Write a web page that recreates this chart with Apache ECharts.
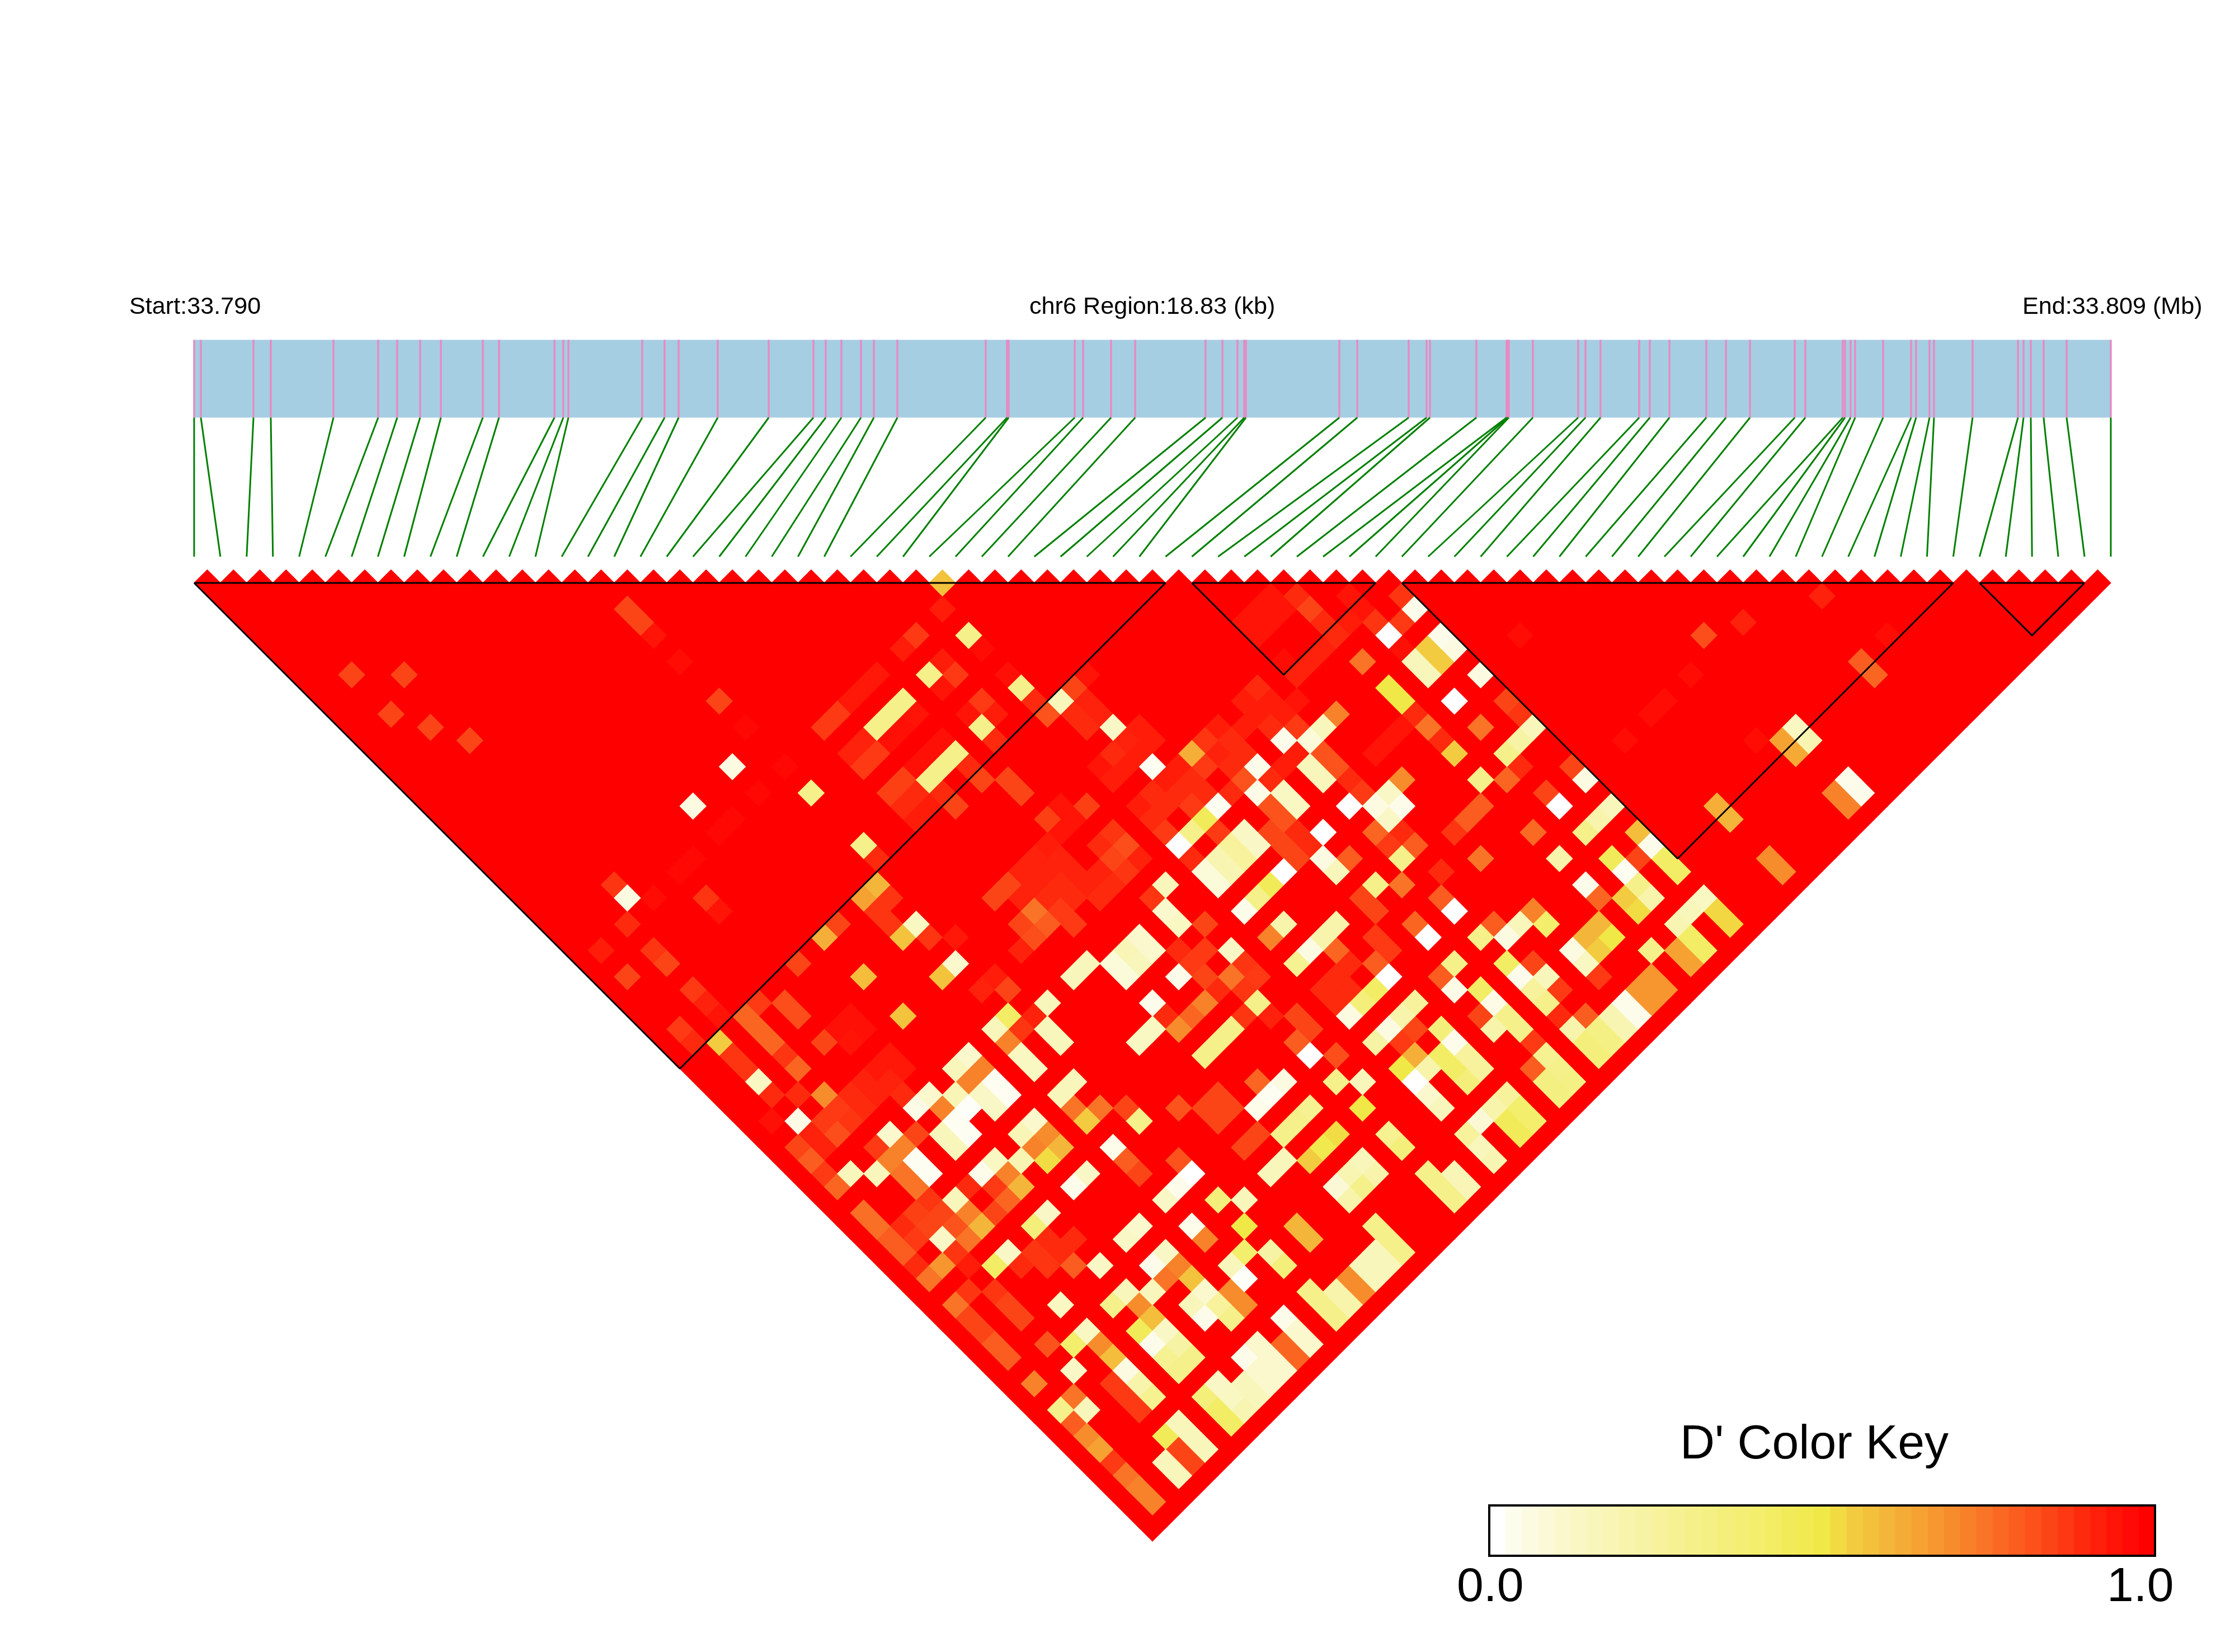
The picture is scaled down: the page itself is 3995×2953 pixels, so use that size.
<!DOCTYPE html>
<html>
<head>
<meta charset="utf-8">
<style>html,body{margin:0;padding:0;background:#fff}#c{width:3995px;height:2953px}</style>
<script src="https://cdn.jsdelivr.net/npm/echarts@6/dist/echarts.min.js"></script>
</head>
<body>
<div id="c"></div>
<script>
const regionKb = 18.83;
const snpKb = [0,.066,.583,.753,1.369,1.808,1.995,2.220,2.424,2.836,2.995,3.540,3.627,3.677,4.402,4.622,4.760,5.144,5.645,6.084,6.205,6.359,6.551,6.678,6.909,7.777,7.986,8.002,8.651,8.733,9.008,9.245,9.937,10.102,10.250,10.316,10.333,11.251,11.427,11.932,12.108,12.141,12.597,12.894,12.905,12.916,13.152,13.597,13.669,13.817,14.197,14.301,14.494,14.856,15.049,15.285,15.725,15.829,16.197,16.219,16.274,16.318,16.593,16.868,16.917,17.049,17.093,17.472,17.918,17.973,18.044,18.170,18.396,18.83];
const blocks = [[0,37],[38,45],[46,67],[68,72]];
const paletteStops = [0,.03,.1,.2,.3,.4,.5,.55,.6,.65,.7,.75,.8,.85,.9,.95,1];
const paletteColors = ['#FFFFFF','#FDFCEA','#FAF8CC','#F8F4AC','#F5F08A','#F3EE6C','#F0E846','#F3CB40','#F4B63A','#F6A233','#F78C2C','#F97426','#FB5C1F','#FC4516','#FE2A0E','#FF1407','#FF0000'];

const cellsUpperLeft = [[2,10,.85],[4,12,.85],[2,13,.85],[3,15,.85],[4,17,.85],[3,30,.9],[3,32,.88],[1,30,.93],[1,32,.85],[3,33,.85],
[15,18,.85],[15,19,.85],[15,20,.95],[15,22,.97],[15,25,.85],[15,27,.98],[13,28,.05],[15,30,.98],[13,30,.98],[15,32,.3],[10,28,.05],[11,30,.98],[10,30,.98],[8,30,.98],[7,30,.98],[4,28,.88],[4,29,.05],[5,30,.97],[7,32,.88],[7,33,.95],
[28,29,.57],[27,30,.93],[27,32,.3],[25,30,.87],[24,30,.93],[27,33,.97],[24,32,.3],[25,32,.93],[25,33,.87],[24,33,.95],[27,35,.96],[22,30,.94],[21,30,.94],[20,30,.94],[19,30,.87],[18,30,.87],[22,32,.3],[21,32,.3],[20,32,.3],[22,33,.95],[21,33,.96],[20,33,.96],[25,35,.87],[24,35,.95],[25,36,.93],[24,36,.3],[24,37,.9],[19,32,.92],[18,32,.92],[19,33,.87],[18,33,.87],[22,36,.3],[21,36,.3],[20,36,.3],[22,37,.9],[22,35,.96],[21,35,.96],[20,35,.96],[19,35,.86],[18,35,.86],[18,36,.9],[19,36,.9],[19,37,.93],[18,37,.93],[20,38,.85],[20,37,.9],[22,38,.85],[23,39,.85],[15,36,.3],[15,37,.9],[14,38,.6],[13,38,.65],[14,39,.88]];

const cellsUpperMiddle = [[41,43,.9],[41,44,.85],[41,45,.9],[40,42,.95],[39,42,.95],[38,42,.95],[40,43,.95],[39,43,.95],[38,43,.95],[43,45,.95],[43,46,.95],[42,46,.93],[41,46,.9],[43,47,.88],[45,47,.88],[45,48,.03],[44,48,.87],[43,48,0],[43,49,.96],[40,46,.92],[39,46,.92],[38,46,.92],[38,45,.97],
[45,50,.03],[45,51,.05],[44,50,.55],[44,51,.55],[43,50,.15],[43,51,.15],[41,48,.75],[41,50,.5],[41,51,.5],[38,49,.72],[37,49,.15],[36,49,.07],[35,48,.03],[36,48,.87],[35,47,.9],[36,45,.9],[36,46,.93],[36,47,.93],[35,45,.93],[35,46,.93],[37,47,.95],[41,52,.9],[41,53,.75],[41,54,.9],[41,55,.55],[40,52,.95],[39,52,.95],[38,52,.95],[36,50,.82],[36,51,.82],[35,50,.15],[35,51,.15],[35,49,.93],[34,49,.93],[33,48,.03],[33,47,.9],[32,47,.9],[31,45,.62],[32,45,.88],[31,46,.87],[32,46,.92],[29,44,.02],[29,41,.12],[28,38,.15],[29,38,.85],[30,38,.95],[27,38,.82],[27,37,.9],[27,36,.3],[28,39,.9],[28,40,.9],[29,39,.92],[29,40,.92],[29,42,.92],[30,42,.93],[30,43,.93],[29,43,.93],[28,42,.9],[27,42,.95],[28,43,.93],[27,43,.93],[29,45,.93],[30,45,.93],[30,46,.9],[29,46,.9],[33,45,.93],[33,46,.9],[34,46,.93],
[23,40,.85],[23,42,.86],[24,42,.95],[24,43,.95],[25,43,.86],[27,45,.93],[28,45,.9],[28,46,.9],[27,46,.9],[29,47,.87],[30,48,.02],[30,47,.9],[31,48,.9],[32,48,.82],[32,49,.04],[33,50,.13],[33,51,.13],[32,50,.82],[32,51,.82],[33,49,.9],[29,48,.45],[28,48,.3],[27,48,0],[29,49,.87],[27,47,.87],
[30,50,.12],[30,51,.12],[29,50,.25],[29,51,.25],[28,50,.18],[28,51,.18],[27,50,.07],[27,51,.07],[27,49,.9],[35,53,0],[36,54,.05],[37,55,.03],[37,54,.12],[38,54,.7],[36,55,.12],[36,53,.87],[36,52,.9],[33,53,0],[32,54,.05],[32,55,.15],[33,55,.8],[30,53,0],[29,53,.45],[28,53,.3],[27,53,.03],[31,52,.85],[31,51,.85],[32,52,.9],[31,53,.85],[35,55,.78],[36,56,.9],[36,57,.8],[35,57,.3],[35,56,.87],[33,57,.3],[34,58,.75],[32,57,.85],[35,60,.8],[36,59,.9],[38,58,.88],[25,49,.15],[24,49,.88],[24,50,.1],[25,45,.88],[25,46,.83],[24,46,.85],[24,47,.88],[25,47,.92],[24,45,.9],[19,43,.85],[22,47,.9],[19,45,.75]];

const cellsUpperRight = [[48,53,.97],[55,60,.83],[57,61,.92],[61,63,.92],[53,61,.97],[62,67,.97],[60,67,.8],[60,68,.78],[51,61,.97],[50,61,.97],[48,61,.97],[53,66,.97],[55,67,.13],[55,68,.18],[54,67,.65],[54,68,.63],[49,67,.62],[49,68,.6],[55,71,.03],[55,72,.03],[54,71,.72],[54,72,.72],[49,71,.7],[49,72,.7],[45,70,.13],[44,70,.15],[45,71,.53],[45,68,.42],[45,67,.42],[45,66,.03],[45,65,.58],[45,63,.15],[44,63,.2],[43,63,.3],[45,61,.05],[45,60,.85],[43,61,0],[43,60,.85],[45,57,.15],[44,57,.22],[43,57,.3],[45,56,.88],[45,55,.85],[45,53,.05],[43,53,0],[43,55,.75],[41,57,.3],[42,58,.78],[43,58,.9],[40,58,.8],[39,58,.8],[41,61,.77],[38,60,.75],[41,63,.2],[41,65,.03],[43,65,.45],[43,66,.02],[44,66,.85],[43,67,.3],[43,68,.2],[42,67,.55],[41,66,.78]];

const cellsLowerLeft = [[11,38,.85],[10,38,.62],[8,38,.85],[14,41,.13],[13,41,.57],[14,42,.88],[10,41,.58],[14,44,.1],[13,44,.57],[10,44,.57],[6,39,.83],[6,40,.83],[5,38,.87],[4,38,.78],[4,39,.78],[4,40,.78],[4,41,.88],[4,42,.78],[4,44,.7],[2,38,.55],[2,39,.88],[2,40,.88],[2,41,.13],[2,42,.9],[2,44,.04],[6,42,.85],[7,43,.95],[3,35,.87],[3,36,.92],[3,37,.95],[1,36,.87],[1,37,.9],
[14,48,.42],[13,48,.15],[13,49,.72],[14,49,.88],[16,49,.15],[15,49,.92],[15,50,.15],[15,51,.15],[13,50,.13],[13,51,.13],[11,48,.1],[10,48,.15],[11,49,.72],[10,49,.72],[11,50,.02],[11,51,.02],[10,50,.12],[10,51,.12],[8,48,.1],[7,48,.04],[9,49,.17],[8,49,.72],[9,50,.01],[8,50,.02],[8,51,.02],[7,50,.15],[7,51,.15],[5,48,.1],[5,49,.72],[4,49,.72],[6,49,.85],[5,50,.02],[5,51,.02],[4,50,.75],[4,51,.75],[2,48,.15],[3,49,.15],[4,48,.87],[1,46,.8],[1,48,.78],[1,50,.76],[1,51,.76],[1,45,.85],[1,47,.87],[3,45,.87],[3,46,.83],
[7,53,.03],[8,53,.13],[9,54,.18],[8,54,.72],[8,55,.6],[10,55,.52],[10,54,.72],[11,54,.7],[10,53,.17],[11,53,.1],[11,55,.6],[13,53,.15],[14,53,.15],[19,49,.15],[18,49,.15],[13,55,.55],[13,54,.75],[14,55,.75],[13,57,.03],[11,57,.12],[10,57,.03],[8,57,.12],[7,57,.35],[5,53,.15],[5,54,.72],[5,55,.6],[18,43,.85],[18,45,.85],[18,46,.83]];

const cellsLowerRight = [[24,51,.13],[22,50,.1],[22,51,.1],[21,50,.17],[21,51,.15],[20,50,.07],[20,51,.07],[25,52,.85],[28,55,.2],[27,55,.72],[30,57,.2],[29,57,.2],[28,57,.05],[27,57,.28],[29,58,.78],[35,61,0],[33,60,.78],[33,61,0],[35,63,.3],[36,64,.05],[37,64,.15],[38,64,.72],[38,65,.4],[36,63,.8],[33,63,.3],[35,65,.42],[35,66,.03],[36,66,.85],[36,67,.15],[35,67,.25],[35,68,.3],[36,68,.87],[38,67,.05],[38,68,.13],[39,67,.6],[39,68,.55],[40,67,.6],[40,68,.5],[42,68,.52],[41,70,.3],[43,70,.18],[43,71,.42],[43,72,.42],[45,72,.53],[42,71,.65],[42,72,.65],
[40,71,.68],[40,72,.68],[39,71,.68],[39,72,.68],[38,71,.03],[38,72,.03],[37,71,.18],[37,72,.18],[36,71,.32],[36,72,.32],[35,71,.35],[35,72,.35],[35,70,.2],[36,70,.8],[35,69,.9],[38,69,.87],[33,70,.28],[33,71,.3],[33,72,.32],[32,70,.8],[32,71,.33],[32,72,.33],[33,67,.3],[32,67,.2],[33,68,.3],[33,66,.04],[33,65,.42],[32,66,.85],[32,64,.04],[30,65,.35],[30,66,.03],[29,66,.42],[29,67,.42],[30,67,.25],[30,68,.25],[29,68,.35],[30,63,.25],[29,63,.2],[28,63,.05],[27,63,.22],[29,64,.85],[28,65,.62],[27,65,.5],[28,66,.2],[27,66,0],[27,67,.1],[27,68,.15],[29,61,.42],[28,61,.35],[27,61,.05],[30,61,0],[30,60,.8],[24,61,0],[24,60,.8],[25,62,.83],[24,57,.3],[22,57,.3],[21,57,.3],[20,57,.3],[22,55,.72],[21,55,.78],[20,55,.7],[19,54,.13],[18,54,.13],[20,53,.03],[22,53,.03],[25,54,.12],[24,55,.75],
[22,61,.05],[21,61,.02],[20,61,.03],[21,60,.78],[24,63,.3],[25,64,.15],[24,65,.5],[22,63,.28],[21,63,.3],[20,63,.3],[22,65,.52],[21,65,.48],[20,65,.55],[24,67,.28],[24,68,.35],[22,67,.15],[22,68,.2],[21,67,.18],[21,68,.3],[20,67,.08],[20,68,.2],[19,64,.15],[18,64,.15],[24,70,.3],[24,71,.3],[24,72,.3],[25,71,.17],[25,72,.17],[27,71,.15],[27,72,.18],[27,70,.25],[28,70,.08],[29,70,.2],[30,70,.25],[30,71,.4],[30,72,.4],[29,71,.45],[29,72,.45],[15,61,0],[14,61,.03],[13,61,.12],[15,63,.35],[16,64,.15],[15,65,.5],[13,63,.03],[11,61,.1],[15,57,.3],[17,58,.82],[19,59,.85],[18,59,.85],[18,60,.85],[19,60,.85],[25,60,.85],[25,59,.85],[28,59,.9],[27,59,.9],[28,60,.9],[27,60,.9],[31,60,.87],[31,59,.87],[32,63,.8]];

const cellsBottom = [[1,52,.8],[1,53,.8],[1,55,.75],[1,54,.9],[2,55,.68],[3,54,.12],[4,55,.75],[4,57,.42],[5,57,.12],[8,61,.12],[7,60,.8],[10,61,.12],[13,64,.72],[14,66,.4],[15,67,.22],[15,68,.35],[17,67,.6],[17,68,.6],[10,63,.03],[11,63,.12],[11,64,.72],[10,64,.75],[11,65,.57],[9,64,.15],[11,66,.1],[10,66,.15],[10,67,.03],[11,67,.25],[11,68,.3],[12,67,.7],[12,68,.7],[13,66,.15],[13,67,.01],[8,63,.15],[7,63,.3],[8,64,.7],[8,65,.58],[5,61,.13],[5,63,.13],[4,63,.4],[5,64,.7],[5,65,.58],[7,65,.45],[7,66,.03],[8,66,.12],[8,67,.22],[7,67,.28],[8,68,.3],[7,68,.3],[5,66,.05],[5,67,.2],[5,68,.28],[3,64,.12],[1,63,.72],[2,65,.75],[1,61,.8],[1,59,.85],[1,57,.75],[1,65,.3],[2,66,.15],[1,66,.8],[1,67,.7],[1,68,.65],[1,69,.87],[1,70,.75],[1,71,.72],[1,72,.72],[4,70,.45],[5,70,.15],[5,71,.15],[5,72,.15],[3,71,.15],[3,72,.15],[4,71,.85],[4,72,.85],[7,70,.35],[7,71,.42],[7,72,.42],[8,70,.12],[8,71,.13],[8,72,.18],[10,70,.03],[11,70,.1],[10,71,.1],[10,72,.1],[9,71,.15],[9,72,.15],[11,71,.1],[11,72,.1],[12,71,.78],[12,72,.78],[13,70,.03],[13,71,.1],[13,72,.1],[15,70,.3],[15,71,.3],[15,72,.3],[16,71,.2],[16,72,.2],[17,71,.7],[17,72,.7],[19,71,.15],[18,71,.15],[18,72,.15],[19,72,.15],[20,70,.3],[20,71,.3],[20,72,.3]];

const cellsMidTones = [[8,45,.94],[7,45,.94],[8,46,.94],[7,46,.92],[6,45,.92],[6,46,.92],[7,47,.9],[3,43,.9],[4,45,.87],[4,46,.88],[5,45,.9],[5,46,.9],[2,46,.92],[2,45,.92],[1,43,.96],[8,42,.96],[8,43,.96],[7,42,.96],[13,39,.88],[13,40,.88],[15,43,.94],[19,46,.8],[20,46,.87],[20,47,.87],[17,46,.92],[15,47,.85],[15,46,.93],[14,46,.92],[3,52,.86],[4,52,.88],[4,53,.85],[6,53,.9],[7,54,.87],[6,55,.85],[7,55,.78],
[23,43,.95],[22,43,.93],[21,43,.92],[20,43,.92],[22,44,.92],[21,44,.92],[20,44,.92],[19,44,.92],[22,45,.92],[21,45,.9],[20,45,.9],[22,46,.92],[21,46,.9],[23,46,.92],[23,47,.9],[32,53,.9],
[23,53,.87],[24,53,.87],[23,52,.9],[23,54,.85],[23,55,.9],[20,54,.9],[25,56,.87],[25,55,.88],[24,56,.88],[23,57,.88],[24,58,.92],[29,59,.9],[32,58,.85],[19,62,.85],[18,62,.85],[28,64,.87],[33,69,.87],[15,60,.82],[13,58,.8],[13,59,.85],[15,56,.85],
[2,53,.87],[2,52,.9],[3,53,.85],[4,54,.82],[3,55,.88],[6,58,.88],[7,58,.9],[7,59,.9],[8,59,.9],[6,59,.88],[5,58,.9],[3,59,.85],[3,60,.85],[3,58,.88],[3,56,.93],[2,57,.88],[1,58,.85],[1,60,.8],[3,62,.82],[4,66,.87],[4,67,.87],[4,68,.87]];

/* layout */
const X0 = 347, Y0 = 1042, STEP = 3426 / 73;
const TRACK_TOP = (607.5 - Y0) / STEP, TRACK_BOTTOM = (746.5 - Y0) / STEP, TICK_BOTTOM = (995 - Y0) / STEP;
const KEY_STEPS = 41;

function hex(c){return [1,3,5].map(k=>parseInt(c.substr(k,2),16));}
function colorOf(d){
  for(let k=1;k<paletteStops.length;k++){
    if(d<=paletteStops[k]){
      const t=(d-paletteStops[k-1])/(paletteStops[k]-paletteStops[k-1]);
      const a=hex(paletteColors[k-1]),b=hex(paletteColors[k]);
      return 'rgb('+a.map((x,n)=>Math.round(x+(b[n]-x)*t)).join(',')+')';
    }
  }
  return '#FF0000';
}

const low = new Map();
[cellsUpperLeft,cellsUpperMiddle,cellsUpperRight,cellsLowerLeft,cellsLowerRight,cellsBottom,cellsMidTones].forEach(list=>list.forEach(c=>{const k=c[0]+'_'+c[1]; if(!low.has(k)||list!==cellsMidTones)low.set(k,c[2]);}));
const cellData = [];
for(let i=0;i<snpKb.length;i++)for(let j=i+1;j<snpKb.length;j++){
  const k=i+'_'+j;
  cellData.push([i,j,low.has(k)?low.get(k):1]);
}
cellData.sort((a,b)=>b[2]-a[2]);

function renderCell(p,api){
  const i=api.value(0),j=api.value(1),c=colorOf(api.value(2));
  const u=(i+j)/2,v=(j-i-1)/2;
  return {type:'polygon',shape:{points:[api.coord([u-.5,v]),api.coord([u,v-.5]),api.coord([u+.5,v]),api.coord([u,v+.5])]},style:{fill:c,stroke:c,lineWidth:1.2}};
}
const kbToU = kb => kb/regionKb*(snpKb.length-1);
function renderBand(p,api){
  const a=api.coord([0,TRACK_TOP]),b=api.coord([snpKb.length-1,TRACK_BOTTOM]);
  return {type:'rect',shape:{x:a[0],y:a[1],width:b[0]-a[0],height:b[1]-a[1]},style:{fill:'#A6CEE3'}};
}
function renderPink(p,api){
  const u=kbToU(api.value(0));
  const a=api.coord([u,TRACK_TOP]),b=api.coord([u,TRACK_BOTTOM]);
  return {type:'line',shape:{x1:a[0],y1:a[1],x2:b[0],y2:b[1]},style:{stroke:'#E78AC3',lineWidth:3.4}};
}
function renderGreen(p,api){
  const a=api.coord([kbToU(api.value(0)),TRACK_BOTTOM]),b=api.coord([p.dataIndex,TICK_BOTTOM]);
  return {type:'line',shape:{x1:a[0],y1:a[1],x2:b[0],y2:b[1]},style:{stroke:'#008000',lineWidth:3}};
}
const blockSeries = blocks.map(b=>({type:'line',xAxisIndex:0,yAxisIndex:0,z:5,silent:true,showSymbol:false,clip:false,animation:false,
  lineStyle:{color:'#000',width:3},data:[[b[0],0],[b[1],0],[(b[0]+b[1])/2,(b[1]-b[0])/2],[b[0],0]]}));

const keyData=[];
for(let k=0;k<KEY_STEPS;k++)keyData.push([k/KEY_STEPS,(k+1)/KEY_STEPS,k/(KEY_STEPS-1)]);
function renderKey(p,api){
  const a=api.coord([api.value(0),1]),b=api.coord([api.value(1),0]);
  const c=colorOf(api.value(2));
  return {type:'rect',shape:{x:a[0],y:a[1],width:b[0]-a[0]+.5,height:b[1]-a[1]},style:{fill:c}};
}
function renderKeyFrame(p,api){
  const a=api.coord([0,1]),b=api.coord([1,0]);
  return {type:'rect',shape:{x:a[0],y:a[1],width:b[0]-a[0],height:b[1]-a[1]},style:{fill:'none',stroke:'#000',lineWidth:4}};
}

const FONT='"Liberation Sans", Arial, sans-serif';
const txt=(s,x,y,size)=>({type:'text',x:x,y:y,silent:true,z:10,style:{text:s,font:size+'px '+FONT,fill:'#000',textAlign:'left',textVerticalAlign:'middle'}});

const chart=echarts.init(document.getElementById('c'),null,{renderer:'canvas',width:3995,height:2953});
chart.setOption({
  animation:false,backgroundColor:'#fff',
  grid:[{left:X0,top:Y0,width:3426,height:STEP*40,show:false},{left:2662,top:2691,width:1190,height:90,show:false}],
  xAxis:[{type:'value',gridIndex:0,min:0,max:73,show:false},{type:'value',gridIndex:1,min:0,max:1,show:false}],
  yAxis:[{type:'value',gridIndex:0,min:0,max:40,inverse:true,show:false},{type:'value',gridIndex:1,min:0,max:1,show:false}],
  series:[
    {type:'custom',name:'band',xAxisIndex:0,yAxisIndex:0,clip:false,silent:true,z:1,data:[[0]],renderItem:renderBand},
    {type:'custom',name:'snp',xAxisIndex:0,yAxisIndex:0,clip:false,silent:true,z:2,data:snpKb.map(k=>[k]),renderItem:renderPink},
    {type:'custom',name:'link',xAxisIndex:0,yAxisIndex:0,clip:false,silent:true,z:2,data:snpKb.map(k=>[k]),renderItem:renderGreen},
    {type:'custom',name:'D prime',xAxisIndex:0,yAxisIndex:0,clip:false,silent:true,z:3,progressive:0,data:cellData,renderItem:renderCell},
    ...blockSeries,
    {type:'custom',name:'key',xAxisIndex:1,yAxisIndex:1,clip:false,silent:true,z:3,data:keyData,renderItem:renderKey},
    {type:'custom',name:'keyFrame',xAxisIndex:1,yAxisIndex:1,clip:false,silent:true,z:4,data:[[0]],renderItem:renderKeyFrame}
  ],
  graphic:[
    txt('Start:33.790',231,549,43.2),
    txt('chr6 Region:18.83 (kb)',1840,549,43.2),
    txt('End:33.809 (Mb)',3615,549,43.2),
    txt("D' Color Key",3003,2583,86),
    txt('0.0',2604,2838,86),
    txt('1.0',3766,2838,86)
  ]
});
</script>
</body>
</html>
